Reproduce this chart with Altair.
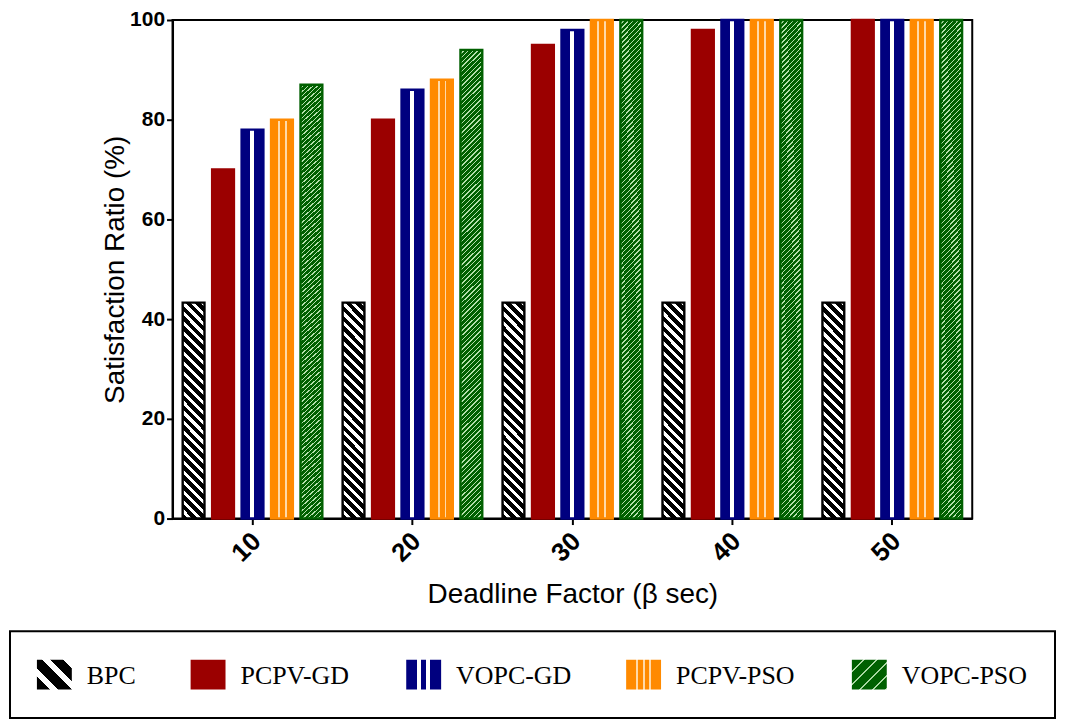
import altair as alt
import pandas as pd

# ---------------- data ----------------
deadlines = [10, 20, 30, 40, 50]
series_names = ["BPC", "PCPV-GD", "VOPC-GD", "PCPV-PSO", "VOPC-PSO"]
bpc = [43.3, 43.3, 43.3, 43.3, 43.3]
pcpv_gd = [70, 80, 95, 98, 100]
vopc_gd = [78, 86, 98, 100, 100]
pcpv_pso = [80, 88, 100, 100, 100]
vopc_pso = [87, 94, 100, 100, 100]
base_colors = ["#000000", "#9B0000", "#00007F", "#FF8A00", "#006000"]

values_by_series = [bpc, pcpv_gd, vopc_gd, pcpv_pso, vopc_pso]
rows = []
for name, vals in zip(series_names, values_by_series):
    for d, v in zip(deadlines, vals):
        rows.append({"deadline": d, "series": name, "value": v})
df = pd.DataFrame(rows)

# ---------------- layout / style constants ----------------
PLOT_W, PLOT_H = 802, 500
BAR_W = 22
LEG_LEFT, LEG_RIGHT = -163, 885      # legend box, in plot pixels
LEG_TOP, LEG_BOTTOM = 613, 700
SYM_W, SYM_H = 35, 30
SYM_GAP, ITEM_GAP, LEG_PAD = 15, 55, 27
LEG_FONT_SIZE = 26
# Times / Liberation Serif advance widths (em) for the label glyphs
GLYPH_EM = {"B": 0.667, "P": 0.556, "C": 0.667, "V": 0.722, "O": 0.722,
            "G": 0.722, "D": 0.722, "S": 0.556, "-": 0.333}

# legend layout derived from the label widths
leg_rows = []
cursor = LEG_PAD
for name in series_names:
    text_w = sum(GLYPH_EM.get(ch, 0.6) for ch in name) * LEG_FONT_SIZE
    leg_rows.append({"series": name, "sx": cursor, "sx2": cursor + SYM_W,
                     "tx": cursor + SYM_W + SYM_GAP})
    cursor += SYM_W + SYM_GAP + text_w + ITEM_GAP
leg_df = pd.DataFrame(leg_rows)
box_df = pd.DataFrame([{"bx": 0, "bx2": LEG_RIGHT - LEG_LEFT}])


# ---------------- pattern fills (gradients) ----------------
def stripe_stops(ca, cb, n, frac_b):
    stops = []
    for i in range(n):
        s = i / n
        m = (i + 1 - frac_b) / n
        e = (i + 1) / n
        stops += [
            {"offset": round(s, 5), "color": ca},
            {"offset": round(m, 5), "color": ca},
            {"offset": round(m, 5), "color": cb},
            {"offset": round(e, 5), "color": cb},
        ]
    return stops


def diag(w, h, period_v, ca, cb, frac_b, backslash):
    k = (w + h) / (w * w + h * h)
    a, b = w * k, h * k
    n = max(1, round((w + h) / period_v))
    stops = stripe_stops(ca, cb, n, frac_b)
    if backslash:
        return {"gradient": "linear", "x1": 0, "y1": 1, "x2": a, "y2": 1 - b, "stops": stops}
    return {"gradient": "linear", "x1": 0, "y1": 0, "x2": a, "y2": b, "stops": stops}


def vstripes(base, light, bands):
    stops = [{"offset": 0, "color": base}]
    for s, e in bands:
        stops += [
            {"offset": s, "color": base},
            {"offset": s, "color": light},
            {"offset": e, "color": light},
            {"offset": e, "color": base},
        ]
    stops.append({"offset": 1, "color": base})
    return {"gradient": "linear", "x1": 0, "y1": 0, "x2": 1, "y2": 0, "stops": stops}


bpc_h = PLOT_H * 43.3 / 100
g_bpc = diag(BAR_W, bpc_h, 10, "#000000", "#FFFFFF", 0.42, True)
g_vgd = vstripes("#00007F", "#FFFFFF", [(0.40, 0.58)])
g_ppso = vstripes("#FF8A00", "#FFD9A8", [(0.30, 0.39), (0.62, 0.71)])
g_vpso = diag(BAR_W, PLOT_H * 0.95, 4.8, "#006000", "#B4E0AC", 0.28, False)

l_bpc = diag(SYM_W, SYM_H, 20, "#000000", "#FFFFFF", 0.38, True)
l_vgd = vstripes("#00007F", "#FFFFFF", [(0.32, 0.43), (0.57, 0.68)])
l_ppso = vstripes("#FF8A00", "#FFD9A8", [(0.29, 0.35), (0.47, 0.53), (0.65, 0.71)])
l_vpso = diag(SYM_W, SYM_H, 13, "#006000", "#A8D8A0", 0.18, False)


def conds(gb, gv, gp, gg):
    return [
        {"test": "datum.series === 'BPC'", "value": gb},
        {"test": "datum.series === 'VOPC-GD'", "value": gv},
        {"test": "datum.series === 'PCPV-PSO'", "value": gp},
        {"test": "datum.series === 'VOPC-PSO'", "value": gg},
    ]


color_scale = alt.Scale(domain=series_names, range=base_colors)
leg_x_scale = alt.Scale(domain=[0, LEG_RIGHT - LEG_LEFT], range=[LEG_LEFT, LEG_RIGHT])

bars = (
    alt.Chart(df)
    .mark_bar(strokeWidth=2.4)
    .encode(
        x=alt.X(
            "deadline:O",
            scale=alt.Scale(paddingInner=0.09, paddingOuter=0.045),
            axis=alt.Axis(
                title="Deadline Factor (β sec)",
                labelAngle=315,
                labelFontWeight="bold",
                labelFontSize=26,
                labelOffset=-5,
                titleFontSize=28,
                titlePadding=14,
                labelPadding=3,
            ),
        ),
        xOffset=alt.XOffset(
            "series:N",
            sort=series_names,
            scale=alt.Scale(paddingInner=0.26, paddingOuter=0.1),
        ),
        y=alt.Y(
            "value:Q",
            scale=alt.Scale(domain=[0, 100], nice=False),
            axis=alt.Axis(
                title="Satisfaction Ratio (%)",
                values=[0, 20, 40, 60, 80, 100],
                labelFontWeight="bold",
                labelFontSize=21,
                titleFontSize=28,
                titlePadding=0,
                labelPadding=2,
            ),
        ),
        fill=alt.Fill(
            field="series",
            type="nominal",
            scale=color_scale,
            legend=None,
            condition=conds(g_bpc, g_vgd, g_ppso, g_vpso),
        ),
        stroke=alt.Stroke("series:N", scale=color_scale, legend=None),
    )
)

legend_box = (
    alt.Chart(box_df)
    .mark_rect(fillOpacity=0, stroke="black", strokeWidth=2)
    .encode(
        x=alt.X("bx:Q", scale=leg_x_scale, axis=None),
        x2="bx2:Q",
        y=alt.value(LEG_TOP),
        y2=alt.value(LEG_BOTTOM),
    )
)

legend_symbols = (
    alt.Chart(leg_df)
    .mark_rect()
    .encode(
        x=alt.X("sx:Q", scale=leg_x_scale, axis=None),
        x2="sx2:Q",
        y=alt.value((LEG_TOP + LEG_BOTTOM) / 2 - SYM_H / 2),
        y2=alt.value((LEG_TOP + LEG_BOTTOM) / 2 + SYM_H / 2),
        fill=alt.Fill(
            field="series",
            type="nominal",
            scale=color_scale,
            legend=None,
            condition=conds(l_bpc, l_vgd, l_ppso, l_vpso),
        ),
    )
)

legend_labels = (
    alt.Chart(leg_df)
    .mark_text(align="left", baseline="middle", font="Liberation Serif",
               fontSize=LEG_FONT_SIZE, color="black")
    .encode(
        x=alt.X("tx:Q", scale=leg_x_scale, axis=None),
        y=alt.value((LEG_TOP + LEG_BOTTOM) / 2 + 1),
        text="series:N",
    )
)

chart = (
    alt.layer(bars, legend_box, legend_symbols, legend_labels)
    .resolve_scale(x="independent")
    .properties(
        width=PLOT_W,
        height=PLOT_H,
        autosize=alt.AutoSizeParams(type="none"),
        padding={"left": 165, "top": 11, "right": 85, "bottom": 202},
    )
    .configure_view(stroke="black", strokeWidth=2)
    .configure_axis(
        domainColor="black",
        domainWidth=2,
        tickColor="black",
        tickWidth=2,
        tickSize=6,
        labelColor="black",
        titleColor="black",
        labelFont="Liberation Sans",
        titleFont="Liberation Sans",
        titleFontWeight="normal",
        grid=False,
    )
)

chart.save("out.html", embed_options={"renderer": "svg", "actions": False})
